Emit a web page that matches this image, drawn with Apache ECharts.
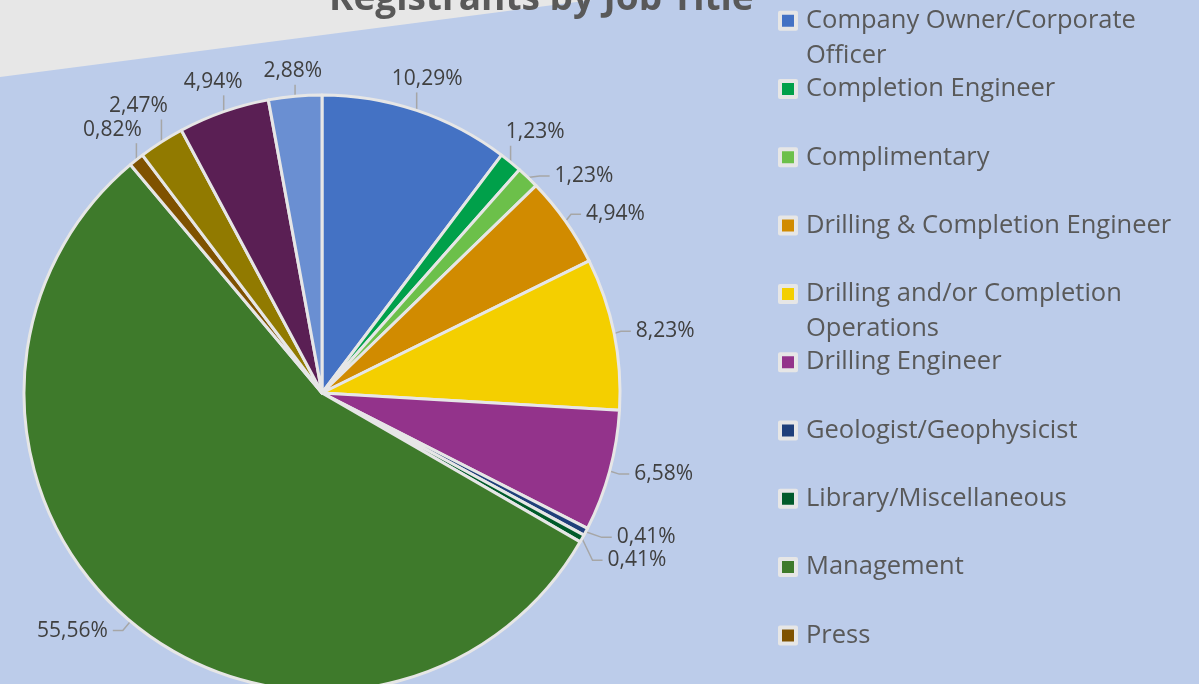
<!DOCTYPE html>
<html>
<head>
<meta charset="utf-8">
<script src="https://cdn.jsdelivr.net/npm/echarts@6/dist/echarts.min.js"></script>
<style>
html,body{margin:0;padding:0;background:#BCCCEA;}
#chart{width:1199px;height:684px;}
</style>
</head>
<body>
<div id="chart"></div>
<script>
// Job title categories (last three are not visible in the cropped legend)
var categories = [
  'Company Owner/Corporate Officer',
  'Completion Engineer',
  'Complimentary',
  'Drilling & Completion Engineer',
  'Drilling and/or Completion Operations',
  'Drilling Engineer',
  'Geologist/Geophysicist',
  'Library/Miscellaneous',
  'Management',
  'Press',
  'Production Engineer',
  'Reservoir Engineer',
  'Sales/Marketing'
];
// Share of registrants (%)
var shares = [10.29, 1.23, 1.23, 4.94, 8.23, 6.58, 0.41, 0.41, 55.56, 0.82, 2.47, 4.94, 2.88];
var colors = ['#4472C4', '#00A04A', '#6CC04A', '#D18B00', '#F4CF00', '#93338B',
              '#1F3F7A', '#005A2A', '#3E7A2B', '#7F5200', '#917A00', '#5A1F54', '#6A8FD2'];
var legendCount = 10;

var FONT = 'Open Sans';
var LEG_LH = 35;
var legendTop0 = 20.7, legendStep = 68.3;
var LABEL_GAP = 12;
var PIE_CENTER = [322, 393];

var data = categories.map(function (c, i) {
  return { name: c, value: shares[i], itemStyle: { color: colors[i] } };
});

var legends = [];
for (var i = 0; i < legendCount; i++) {
  var yc = legendTop0 + legendStep * i;
  var leg = {
    orient: 'vertical',
    left: 778,
    top: yc - LEG_LH / 2,
    padding: 0,
    itemWidth: 16,
    itemHeight: 16,
    itemGap: 0,
    icon: 'rect',
    selectedMode: false,
    itemStyle: { borderColor: '#E6E6E6', borderWidth: 4 },
    data: [categories[i]],
    textStyle: {
      fontFamily: FONT,
      fontSize: 25.5,
      color: '#595959',
      lineHeight: LEG_LH,
      width: 380,
      overflow: 'break',
      padding: [0, 0, 0, 5]
    }
  };
  // long names wrap: an empty leading line keeps the marker beside the first line
  if (i === 0 || i === 4) {
    leg.top = yc - LEG_LH * 1.5;
    leg.formatter = function (name) { return '\n' + name; };
  }
  legends.push(leg);
}

// labels on the upper cap sit centred beyond the slice edge; others keep the default elbow layout
var placed = [];
function overlaps(r) {
  for (var k = 0; k < placed.length; k++) {
    var q = placed[k];
    if (r.x < q.x + q.w + 2 && r.x + r.w + 2 > q.x && r.y < q.y + q.h + 2 && r.y + r.h + 2 > q.y) return true;
  }
  return false;
}
function layoutLabel(params) {
  if (params.dataIndex === 0) placed = [];
  var pts = params.labelLinePoints;
  var lr = params.labelRect;
  if (!pts) return {};
  var ex = pts[0][0], ey = pts[0][1];
  var vx = ex - PIE_CENTER[0], vy = ey - PIE_CENTER[1];
  var len = Math.sqrt(vx * vx + vy * vy) || 1;
  var ux = vx / len, uy = vy / len;
  if (!(uy < 0 && Math.abs(ux) < 0.67)) {
    placed.push({ x: lr.x, y: lr.y, w: lr.width, h: lr.height });
    return {};
  }
  var tx = -uy, ty = ux;
  var w = lr.width, h = lr.height;
  var ext = Math.abs(ux) * w / 2 + Math.abs(uy) * h / 2;
  var cx0 = ex + ux * (LABEL_GAP + ext), cy0 = ey + uy * (LABEL_GAP + ext);
  function rectAt(cx, cy) { return { x: cx - w / 2, y: cy - h / 2, w: w, h: h }; }
  var cx = cx0, cy = cy0;
  if (overlaps(rectAt(cx0, cy0))) {
    var best = null;
    var dirs = [[ux, uy], [tx, ty]];
    for (var d = 0; d < dirs.length; d++) {
      for (var s = 1; s < 200; s++) {
        var px = cx0 + dirs[d][0] * s, py = cy0 + dirs[d][1] * s;
        if (!overlaps(rectAt(px, py))) {
          if (!best || s < best.s) best = { s: s, x: px, y: py };
          break;
        }
      }
    }
    if (best) { cx = best.x; cy = best.y; }
  }
  var r = rectAt(cx, cy);
  placed.push(r);
  var nx = Math.min(Math.max(ex, r.x), r.x + r.w);
  var ny = Math.min(Math.max(ey, r.y), r.y + r.h);
  var lx = nx - ex, ly = ny - ey;
  var ll = Math.sqrt(lx * lx + ly * ly) || 1;
  var endLen = Math.max(ll - 3, 0);
  return {
    x: cx,
    y: cy,
    align: 'center',
    verticalAlign: 'middle',
    labelLinePoints: [[ex, ey], [ex + lx / ll * endLen, ey + ly / ll * endLen]]
  };
}

var chart = echarts.init(document.getElementById('chart'), null, { renderer: 'canvas' });
chart.setOption({
  backgroundColor: '#BCCCEA',
  animation: false,
  graphic: [{
    type: 'polygon',
    z: -10,
    silent: true,
    shape: { points: [[0, 0], [0, 77], [592, 0]] },
    style: { fill: '#E7E7E7' }
  }],
  title: {
    text: 'Registrants by Job Title',
    left: 329,
    top: -19,
    padding: 0,
    textStyle: { fontFamily: FONT, fontSize: 37, fontWeight: 'bold', color: '#595959' }
  },
  legend: legends,
  series: [{
    type: 'pie',
    center: PIE_CENTER,
    radius: 298,
    startAngle: 90,
    clockwise: true,
    avoidLabelOverlap: true,
    itemStyle: { borderColor: '#E6E6E6', borderWidth: 3 },
    emphasis: { disabled: true },
    label: {
      show: true,
      position: 'outside',
      formatter: function (p) { return p.value.toFixed(2).replace('.', ',') + '%'; },
      fontFamily: FONT,
      fontSize: 21,
      color: '#404040'
    },
    labelLine: {
      show: true,
      length: 12,
      length2: 10,
      lineStyle: { color: '#A6A6A6', width: 1.5 }
    },
    labelLayout: layoutLabel,
    data: data
  }]
});
</script>
</body>
</html>
